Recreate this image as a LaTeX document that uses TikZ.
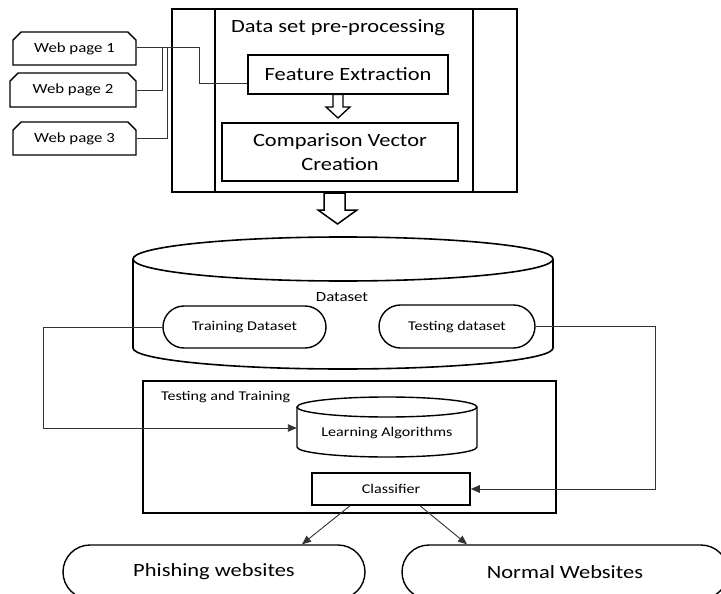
\documentclass[tikz,border=0pt]{standalone}
\usepackage{fontspec}
\setmainfont{Carlito}[FakeStretch=1.2]
\usetikzlibrary{shapes.misc,arrows.meta,calc}
\begin{document}
\begin{tikzpicture}[x=1pt,y=-1pt,
  thickline/.style={draw,line width=1.6pt},
  boxa/.style={draw,line width=1.6pt,rectangle,inner sep=0pt},
  webbox/.style={draw,line width=1.4pt,chamfered rectangle,
     chamfered rectangle corners={north west,north east},
     chamfered rectangle xsep=5pt,inner sep=0pt,
     font=\fontsize{14}{16}\selectfont},
  pill/.style={draw,line width=1.4pt,rounded rectangle,inner sep=0pt},
  conn/.style={draw,line width=0.9pt,black!80},
  tip/.style={-{Triangle[length=9pt,width=7.5pt]}},
  hollow/.style={draw,line width=1.5pt,fill=white,line join=miter},
  bigfont/.style={font=\fontsize{18.7}{24}\selectfont},
  midfont/.style={font=\fontsize{13.4}{16}\selectfont}
]
\clip (0,0) rectangle (721,594);
\fill[white] (0,0) rectangle (721,594);

% web pages
\node[webbox,minimum width=123pt,minimum height=33pt] (wp1) at (74.5,48.5) {Web page 1};
\node[webbox,minimum width=126pt,minimum height=34pt] (wp2) at (73,90) {Web page 2};
\node[webbox,minimum width=123pt,minimum height=33pt] (wp3) at (74.5,138.5) {Web page 3};

% pre-processing block
\node[boxa,minimum width=345pt,minimum height=183pt] (pp) at (344.5,100.5) {};
\draw[thickline] (215,9) -- (215,192);
\draw[thickline] (473,9) -- (473,192);
\node[bigfont] (pptitle) at (338,28) {Data set pre-processing};
\node[boxa,minimum width=200pt,minimum height=39pt,bigfont] (fe) at (348,74.5) {Feature Extraction};
\node[boxa,minimum width=236pt,minimum height=58pt,align=center,bigfont] (cvc) at (340,152) {Comparison Vector\\Creation};

% connectors from web pages
\coordinate (j1) at (199,47);
\path[conn] (wp1.east |- j1) -- (j1) |- ([yshift=-8.5pt]fe.west);
\path[conn] (wp2.east) -- (162,90) -- (162,47);
\path[conn] (wp3.east) -- (167,138.5) -- (167,47);

% small hollow arrow
\draw[hollow,line width=1.3pt] (333,94.5) -- (343,94.5) -- (343,107) -- (350,107) -- (338,118) -- (326,107) -- (333,107) -- cycle;
% big hollow arrow
\draw[hollow] (324,193) -- (345,193) -- (345,210) -- (357,210) -- (337.5,224) -- (318,210) -- (324,210) -- cycle;

% dataset cylinder
\draw[line width=1.6pt] (343,259) ellipse [x radius=210pt,y radius=22pt];
\draw[line width=1.6pt] (133,259) -- (133,348) arc[start angle=180,end angle=360,x radius=210pt,y radius=21pt] -- (553,259);
\node[font=\fontsize{14}{16}\selectfont] (dslabel) at (342,297) {Dataset};
\node[pill,minimum width=163pt,minimum height=42pt,midfont] (tr) at (244.5,327) {Training Dataset};
\node[pill,minimum width=156pt,minimum height=43pt,midfont] (te) at (457,326.5) {Testing dataset};

% testing and training block
\node[boxa,minimum width=413pt,minimum height=132pt] (tt) at (349.5,447) {};
\node[anchor=west,inner sep=0pt,midfont] (ttlabel) at (161,397) {Testing and Training};

% learning algorithms cylinder
\node[minimum width=180pt,minimum height=60pt,inner sep=0pt] (la) at (387,428) {};
\draw[line width=1.4pt] (387,407) ellipse [x radius=90pt,y radius=10pt];
\draw[line width=1.4pt] (297,407) -- (297,447) arc[start angle=180,end angle=360,x radius=90pt,y radius=10pt] -- (477,407);
\node[midfont] (latext) at (387,433) {Learning Algorithms};

\node[boxa,line width=1.5pt,minimum width=158pt,minimum height=32pt,midfont] (cl) at (391,489) {Classifier};

% connectors
\path[conn,tip] (tr.west) -- (43,327) |- (la.west);
\path[conn,tip] (te.east) -- (655,326.5) |- (cl.east);

% outputs
\node[pill,minimum width=302pt,minimum height=54pt,bigfont] (ph) at (214,572) {Phishing websites};
\node[pill,minimum width=326pt,minimum height=54pt,bigfont] (nw) at (565,572) {Normal Websites};
\path[conn,tip] ([xshift=-41pt]cl.south) -- ([xshift=88pt]ph.north);
\path[conn,tip] ([xshift=29pt]cl.south) -- ([xshift=-98pt]nw.north);
\end{tikzpicture}
\end{document}
